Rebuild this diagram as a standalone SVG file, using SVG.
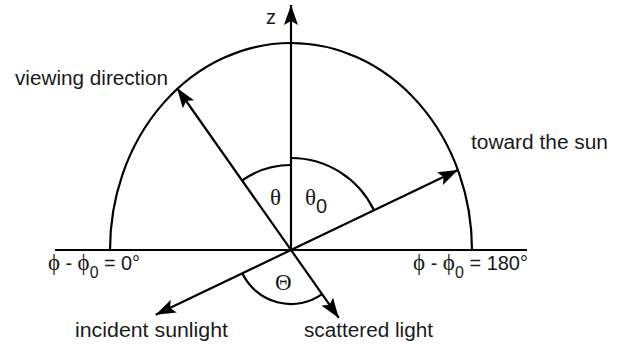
<svg xmlns="http://www.w3.org/2000/svg" width="620" height="344" viewBox="0 0 620 344">
<style>
.ln{stroke:#000;stroke-width:2.2;fill:none}
.lbl{font-family:"Liberation Sans",Arial,sans-serif;font-size:20px;fill:#1a1a1a}
.gr{font-family:"Liberation Serif","Times New Roman",serif;font-size:23px;fill:#1a1a1a}
</style>
<defs>
<marker id="ah" viewBox="0 0 20 14" refX="20" refY="7" markerWidth="20" markerHeight="14" markerUnits="userSpaceOnUse" orient="auto-start-reverse">
<path d="M0,0 L20,7 L0,14 L4,7 Z" fill="#000"/>
</marker>
</defs>
<rect width="620" height="344" fill="#fff"/>
<g id="frame">
<line class="ln" x1="55" y1="250" x2="527" y2="250"/>
<path class="ln" d="M110,250 A181,207 0 0 1 472,250"/>
</g>
<g id="connectors">
<line class="ln" x1="291" y1="250" x2="291" y2="5" marker-end="url(#ah)"/>
<line class="ln" x1="338.8" y1="317.9" x2="177" y2="88" marker-start="url(#ah)" marker-end="url(#ah)"/>
<line class="ln" x1="155.7" y1="314.8" x2="458" y2="170" marker-start="url(#ah)" marker-end="url(#ah)"/>
<path class="ln" d="M242,180.5 A85,85 0 0 1 291,165"/>
<path class="ln" d="M291,158 A92,92 0 0 1 374,210.3"/>
<path class="ln" d="M242.3,273.3 A54,54 0 0 0 322.1,294.2"/>
</g>
<g id="labels">
<text class="lbl" x="266" y="24" font-size="22">z</text>
<text class="lbl" x="15" y="85" textLength="153" lengthAdjust="spacingAndGlyphs">viewing direction</text>
<text class="lbl" x="471" y="149" textLength="137" lengthAdjust="spacingAndGlyphs">toward the sun</text>
<text class="lbl" x="75" y="337" textLength="153" lengthAdjust="spacingAndGlyphs">incident sunlight</text>
<text class="lbl" x="304" y="337" textLength="129" lengthAdjust="spacingAndGlyphs">scattered light</text>
<text class="gr" x="270" y="205">θ</text>
<text class="gr" x="305" y="205">θ<tspan class="lbl" font-size="17" dy="8">0</tspan></text>
<text class="gr" x="275" y="290">Θ</text>
<text class="lbl" x="48" y="270" textLength="92" lengthAdjust="spacingAndGlyphs"><tspan class="gr" font-size="22">ϕ</tspan> - <tspan class="gr" font-size="22">ϕ</tspan><tspan font-size="16" dy="8">0</tspan><tspan dy="-8"> = 0°</tspan></text>
<text class="lbl" x="413" y="270" textLength="115" lengthAdjust="spacingAndGlyphs"><tspan class="gr" font-size="22">ϕ</tspan> - <tspan class="gr" font-size="22">ϕ</tspan><tspan font-size="16" dy="8">0</tspan><tspan dy="-8"> = 180°</tspan></text>
</g>
</svg>
